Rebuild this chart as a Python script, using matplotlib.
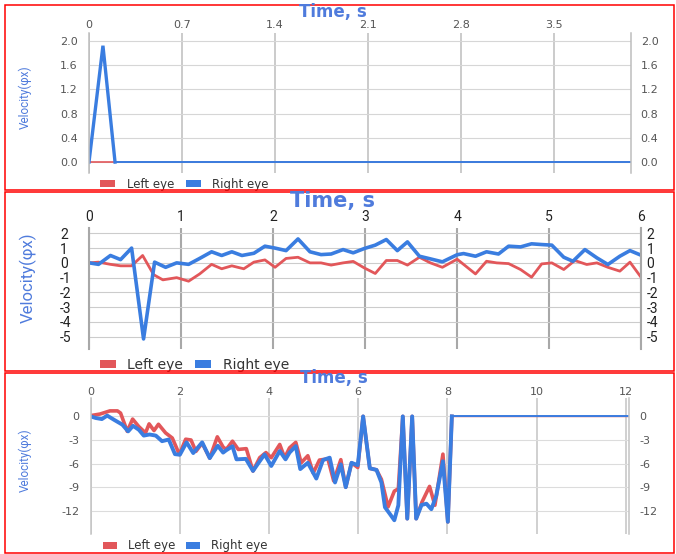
import matplotlib
matplotlib.use('Agg')
import matplotlib.pyplot as plt
from matplotlib.patches import Rectangle, Patch

W, H = 676, 554
RED = '#e2575a'
BLUE = '#3a7de0'
TITLE_BLUE = '#4f7bdc'

# ---------------- data ----------------
# Panel 1
p1_t_left = [0, 0.196, 4.08]
p1_v_left = [0, 0, 0]
p1_t_right = [0, 0.105, 0.196, 4.08]
p1_v_right = [0, 1.92, 0, 0]
p1_xticks = [0, 0.7, 1.4, 2.1, 2.8, 3.5]
p1_xlabels = ['0', '0.7', '1.4', '2.1', '2.8', '3.5']
p1_yticks = [0.0, 0.4, 0.8, 1.2, 1.6, 2.0]
p1_ylabels = ['0.0', '0.4', '0.8', '1.2', '1.6', '2.0']

# Panel 2
p2_t_right = [0, 0.1, 0.23, 0.34, 0.46, 0.59, 0.71, 0.83, 0.95, 1.08, 1.2, 1.33, 1.44,
              1.55, 1.66, 1.79, 1.91, 2.02, 2.14, 2.27, 2.4, 2.52, 2.63, 2.76, 2.87, 2.99,
              3.11, 3.23, 3.35, 3.46, 3.59, 3.71, 3.84, 4.0, 4.07, 4.2, 4.32, 4.45, 4.56,
              4.69, 4.81, 4.92, 5.03, 5.16, 5.26, 5.39, 5.52, 5.64, 5.77, 5.88, 6.0]
p2_v_right = [0, -0.1, 0.5, 0.22, 1.0, -5.15, 0.05, -0.3, 0, -0.1, 0.3, 0.75, 0.5,
              0.75, 0.5, 0.65, 1.13, 1.0, 0.83, 1.62, 0.75, 0.56, 0.6, 0.9, 0.68, 0.97,
              1.2, 1.58, 0.83, 1.42, 0.45, 0.27, 0.07, 0.55, 0.63, 0.45, 0.75, 0.6, 1.13,
              1.08, 1.29, 1.24, 1.2, 0.38, 0.11, 0.9, 0.34, -0.11, 0.45, 0.83, 0.52]
p2_t_left = [0, 0.1, 0.23, 0.34, 0.46, 0.58, 0.70, 0.80, 0.95, 1.08, 1.2, 1.33, 1.44,
             1.55, 1.68, 1.79, 1.91, 2.02, 2.14, 2.27, 2.4, 2.52, 2.63, 2.76, 2.87, 2.99,
             3.11, 3.23, 3.35, 3.46, 3.59, 3.71, 3.84, 4.0, 4.2, 4.32, 4.43, 4.56, 4.69,
             4.81, 4.92, 5.03, 5.16, 5.28, 5.41, 5.52, 5.64, 5.77, 5.88, 6.0]
p2_v_left = [0, 0.05, -0.1, -0.2, -0.2, 0.5, -0.8, -1.15, -1.0, -1.24, -0.75, -0.1, -0.4,
             -0.2, -0.4, 0.05, 0.2, -0.3, 0.3, 0.38, 0, 0, -0.15, 0, 0.1, -0.34,
             -0.72, 0.16, 0.16, -0.15, 0.38, 0, -0.3, 0.25, -0.75, 0.11, 0, -0.05, -0.45,
             -0.97, -0.07, 0, -0.45, 0.16, -0.11, 0, -0.3, -0.56, 0.05, -0.97]
p2_xticks = [0, 1, 2, 3, 4, 5, 6]
p2_xlabels = ['0', '1', '2', '3', '4', '5', '6']
p2_yticks = [-5, -4, -3, -2, -1, 0, 1, 2]
p2_ylabels = ['-5', '-4', '-3', '-2', '-1', '0', '1', '2']

# Panel 3
p3_t_right = [0, 0.11, 0.25, 0.37, 0.52, 0.71, 0.84, 0.95, 1.08, 1.19, 1.32, 1.46, 1.6,
              1.75, 1.89, 2.0, 2.15, 2.3, 2.5, 2.67, 2.85, 2.97, 3.04, 3.18, 3.27, 3.48,
              3.64, 3.79, 3.9, 4.05, 4.24, 4.37, 4.46, 4.6, 4.7, 4.87, 5.06, 5.21, 5.36,
              5.48, 5.61, 5.72, 5.85, 5.99, 6.11, 6.26, 6.41, 6.52, 6.6, 6.71, 6.81, 6.9,
              7.0, 7.1, 7.21, 7.3, 7.42, 7.53, 7.64, 7.75, 7.9, 8.01, 8.1, 12.08]
p3_v_right = [0, -0.2, -0.34, 0.1, -0.42, -1.05, -1.9, -1.2, -1.7, -2.44, -2.3, -2.44, -3.15,
              -2.94, -4.8, -4.87, -3.3, -4.66, -3.3, -5.3, -3.73, -4.6, -4.3, -3.8, -5.46, -5.4,
              -6.93, -5.7, -4.83, -6.3, -4.4, -5.46, -4.6, -3.78, -6.7, -5.9, -7.9, -5.55, -5.25,
              -8.4, -6.1, -9.0, -5.9, -6.2, 0, -6.6, -6.8, -8.4, -11.55, -12.4, -13.2, -11.3,
              0, -13.0, 0, -13.0, -11.26, -11.1, -11.8, -10.1, -5.7, -13.4, 0, 0]
p3_t_left = [0, 0.21, 0.43, 0.6, 0.67, 0.82, 0.94, 1.08, 1.23, 1.31, 1.42, 1.52, 1.68,
             1.83, 1.99, 2.13, 2.25, 2.36, 2.5, 2.67, 2.84, 2.97, 3.04, 3.18, 3.31, 3.49,
             3.64, 3.79, 3.93, 4.05, 4.24, 4.35, 4.46, 4.6, 4.72, 4.87, 4.99, 5.13, 5.32,
             5.45, 5.61, 5.72, 5.85, 5.99, 6.11, 6.26, 6.41, 6.52, 6.67, 6.81, 6.9, 7.0,
             7.1, 7.21, 7.3, 7.43, 7.6, 7.72, 7.9, 8.01, 8.1, 12.08]
p3_v_left = [0.1, 0.3, 0.7, 0.7, 0.42, -1.9, -0.34, -1.3, -2.1, -0.95, -1.8, -1.0, -2.1,
             -2.75, -4.85, -2.9, -3.0, -4.45, -3.4, -5.3, -2.6, -3.9, -4.2, -3.15, -4.2, -4.1,
             -6.95, -5.25, -4.6, -5.25, -3.57, -5.25, -4.0, -3.3, -5.9, -5.0, -7.2, -5.55, -5.4,
             -8.2, -5.5, -9.0, -5.9, -6.5, 0, -6.6, -6.8, -8.0, -11.5, -9.5, -9.2, 0,
             -13.0, 0, -13.0, -10.9, -8.9, -11.3, -4.8, -13.4, 0, 0]
p3_xticks = [0, 2, 4, 6, 8, 10, 12]
p3_xlabels = ['0', '2', '4', '6', '8', '10', '12']
p3_yticks = [-12, -9, -6, -3, 0]
p3_ylabels = ['-12', '-9', '-6', '-3', '0']

legend_labels = ['Left eye', 'Right eye']
title_text = 'Time, s'
ylabel_text = 'Velocity(φx)'

# ---------------- figure ----------------
fig = plt.figure(figsize=(W / 100, H / 100), dpi=100)


def px_axes(l, t, r, b):
    return fig.add_axes([l / W, 1 - b / H, (r - l) / W, (b - t) / H])


def fx(x):
    return x / W


def fy(y):
    return 1 - y / H


def style_axes(ax, xlim, ylim, xticks, xlabels, yticks, ylabels, vgrid, hgrid,
               vlw, hlw, font, fsize, tcolor, xpad, lpad, rpad, left_ha='right'):
    ax.set_xlim(*xlim)
    ax.set_ylim(*ylim)
    ax.xaxis.tick_top()
    ax.set_xticks(xticks)
    ax.set_xticklabels(xlabels, family=font, fontsize=fsize, color=tcolor)
    ax.set_yticks(yticks)
    ax.set_yticklabels(ylabels, family=font, fontsize=fsize, color=tcolor)
    ax.tick_params(axis='x', length=0, pad=xpad)
    ax.tick_params(axis='y', length=0, pad=lpad)
    for lab in ax.get_yticklabels():
        lab.set_ha(left_ha)
    ax.grid(True, axis='x', color=vgrid, lw=vlw)
    ax.grid(True, axis='y', color=hgrid, lw=hlw)
    ax.set_axisbelow(True)
    for s in ['top', 'bottom']:
        ax.spines[s].set_visible(False)
    for s in ['left', 'right']:
        ax.spines[s].set_color(vgrid)
        ax.spines[s].set_linewidth(vlw)
    ax.patch.set_alpha(0)
    ax2 = ax.twinx()
    ax2.set_ylim(*ylim)
    ax2.set_yticks(yticks)
    ax2.set_yticklabels(ylabels, family=font, fontsize=fsize, color=tcolor)
    ax2.tick_params(axis='y', length=0, pad=rpad)
    for s in ax2.spines.values():
        s.set_visible(False)
    return ax2


def add_legend(ax, x, y, font, fsize, hl, hh, tp, cs):
    handles = [Patch(facecolor=RED, edgecolor='none'), Patch(facecolor=BLUE, edgecolor='none')]
    ax.legend(handles, legend_labels, loc='center left', bbox_to_anchor=(fx(x), fy(y)),
              bbox_transform=fig.transFigure, ncol=2, frameon=False,
              prop={'family': font, 'size': fsize}, labelcolor='#333333',
              handlelength=hl, handleheight=hh, handletextpad=tp, columnspacing=cs,
              borderpad=0, borderaxespad=0)


# red frames
for (t, b) in [(5, 190), (191.5, 371), (372.5, 553)]:
    fig.patches.append(Rectangle((fx(5), fy(b)), fx(669), (b - t) / H, fill=False,
                                 edgecolor='#ff0000', lw=1.1, transform=fig.transFigure))

# ---------- Panel 1 ----------
ax1 = px_axes(89, 33, 631, 173)
style_axes(ax1, (0, 4.08), (-0.18, 2.13), p1_xticks, p1_xlabels, p1_yticks, p1_ylabels,
           '#bdbdbd', '#d6d6d6', 1.1, 0.8, 'DejaVu Sans', 8, '#555555', 2, 8, 7)
ax1.plot(p1_t_left, p1_v_left, color=RED, lw=1.2, solid_joinstyle='miter')
ax1.plot(p1_t_right[:3], p1_v_right[:3], color=BLUE, lw=2.4, solid_joinstyle='miter')
ax1.plot(p1_t_right[2:], p1_v_right[2:], color=BLUE, lw=1.4)
fig.text(fx(333), fy(12), title_text, ha='center', va='center', fontsize=12,
         fontweight='bold', color=TITLE_BLUE, family='DejaVu Sans')
fig.text(fx(25), fy(97), ylabel_text, ha='center', va='center', rotation=90,
         fontsize=8.5, color=TITLE_BLUE, family=['Roboto', 'DejaVu Sans'])
add_legend(ax1, 100, 184, 'DejaVu Sans', 8.5, 1.3, 0.5, 0.95, 1.0)

# ---------- Panel 2 ----------
ax2 = px_axes(89.3, 228.3, 641, 349.3)
style_axes(ax2, (0, 6), (-5.85, 2.34), p2_xticks, p2_xlabels, p2_yticks, p2_ylabels,
           '#a8a8a8', '#cccccc', 1.5, 0.8, 'Roboto', 10, '#222222', 3, 21, 4,
           left_ha='left')
ax2.plot(p2_t_left, p2_v_left, color=RED, lw=2.0)
ax2.plot(p2_t_right, p2_v_right, color=BLUE, lw=2.6)
fig.text(fx(333), fy(201), title_text, ha='center', va='center', fontsize=15,
         fontweight='bold', color=TITLE_BLUE, family='DejaVu Sans')
fig.text(fx(28), fy(278), ylabel_text, ha='center', va='center', rotation=90,
         fontsize=12, color=TITLE_BLUE, family=['Roboto', 'DejaVu Sans'])
add_legend(ax2, 100, 365, 'DejaVu Sans', 10, 1.15, 0.45, 0.8, 0.9)

# ---------- Panel 3 ----------
ax3 = px_axes(90.7, 398.3, 629.3, 534)
style_axes(ax3, (0, 12.08), (-14.95, 2.3), p3_xticks, p3_xlabels, p3_yticks, p3_ylabels,
           '#c4c4c4', '#dcdcdc', 1.1, 0.8, 'DejaVu Sans', 8, '#555555', 1, 8, 7)
ax3.plot(p3_t_left[:-1], p3_v_left[:-1], color=RED, lw=2.6)
ax3.plot(p3_t_left[-2:], p3_v_left[-2:], color=RED, lw=1.0)
ax3.plot(p3_t_right[:-1], p3_v_right[:-1], color=BLUE, lw=2.8)
ax3.plot(p3_t_right[-2:], p3_v_right[-2:], color=BLUE, lw=1.4)
fig.text(fx(334), fy(378), title_text, ha='center', va='center', fontsize=12,
         fontweight='bold', color=TITLE_BLUE, family='DejaVu Sans')
fig.text(fx(25), fy(460), ylabel_text, ha='center', va='center', rotation=90,
         fontsize=8.5, color=TITLE_BLUE, family=['Roboto', 'DejaVu Sans'])
add_legend(ax3, 103, 546, 'DejaVu Sans', 8.5, 1.2, 0.5, 0.9, 0.9)

fig.savefig('out.png', dpi=100)
